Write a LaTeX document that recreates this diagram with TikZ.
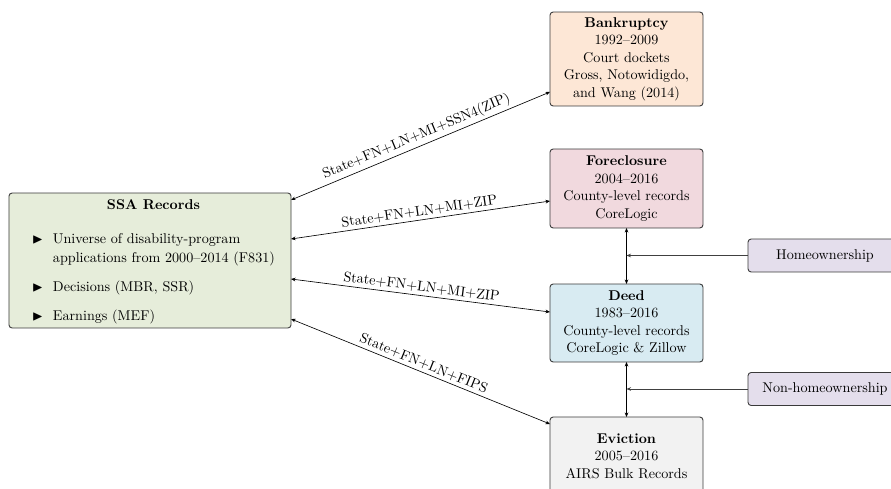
\documentclass[tikz,border=0pt]{standalone}
\usepackage{amssymb}
\usetikzlibrary{calc,arrows.meta}
\definecolor{ssafill}{HTML}{E6EDDA}
\definecolor{bankfill}{HTML}{FDE7D6}
\definecolor{forefill}{HTML}{F1D9DE}
\definecolor{deedfill}{HTML}{D8EBF2}
\definecolor{evicfill}{HTML}{F2F2F2}
\definecolor{homefill}{HTML}{E4DEEC}
\definecolor{bordercol}{HTML}{3A3A3A}
\tikzset{
  box/.style={draw=bordercol, line width=0.65pt, rounded corners=2.2pt, inner sep=0pt, outer sep=0pt,
    align=center, font=\fontsize{10pt}{12.4pt}\selectfont},
  srcbox/.style={box, minimum width=108.1pt},
  flagbox/.style={box, fill=homefill, minimum width=108.8pt, minimum height=23.3pt},
  link/.style={{Stealth[length=3.2pt,width=2.6pt]}-{Stealth[length=3.2pt,width=2.6pt]}, line width=0.45pt, black},
  vlink/.style={{Stealth[length=3.2pt,width=2.6pt]}-{Stealth[length=3.2pt,width=2.6pt]}, line width=0.6pt, black},
  feed/.style={-{Stealth[length=3.2pt,width=2.6pt]}, line width=0.6pt, black!75},
  lbl/.style={midway, sloped, above, font=\fontsize{10pt}{12pt}\selectfont, inner sep=2pt}
}
\begin{document}
\begin{tikzpicture}[x=0.7067pt, y=0.7067pt]
\clip (0,0) rectangle (891,-489);
% SSA box
\node[box, fill=ssafill, minimum width=199.3pt, minimum height=95.4pt] (ssa) at (150,-260.5) {};
\node[inner sep=0pt, anchor=center] (ssatxt) at (153.5,-261.6) {%
  \begin{tabular}{@{}l@{\hspace{7pt}}l@{}}
  \multicolumn{2}{c}{\textbf{SSA Records}}\\[12pt]
  $\blacktriangleright$ & Universe of disability-program\\[2pt]
   & applications from 2000--2014 (F831)\\[8.5pt]
  $\blacktriangleright$ & Decisions (MBR, SSR)\\[8.5pt]
  $\blacktriangleright$ & Earnings (MEF)
  \end{tabular}};
% source boxes
\node[srcbox, fill=bankfill, minimum height=66.4pt] (bank) at (626.5,-59)
  {\textbf{Bankruptcy}\\1992--2009\\Court dockets\\Gross, Notowidigdo,\\and Wang (2014)};
\node[srcbox, fill=forefill, minimum height=55.8pt] (fore) at (626.5,-188.5)
  {\textbf{Foreclosure}\\2004--2016\\County-level records\\CoreLogic};
\node[srcbox, fill=deedfill, minimum height=55.1pt] (deed) at (626.5,-323)
  {\textbf{Deed}\\1983--2016\\County-level records\\CoreLogic \& Zillow};
\node[srcbox, fill=evicfill, minimum height=55.1pt] (evic) at (626.5,-456)
  {\textbf{Eviction}\\2005--2016\\AIRS Bulk Records};
% flag boxes
\node[flagbox] (home) at (825,-255.5) {Homeownership};
\node[flagbox] (nonhome) at (825,-389) {Non-homeownership};
% links
\draw[link] ($(ssa.north east)+(0,-7)$) -- ($(bank.south west)+(0,14)$)
  node[lbl] {State+FN+LN+MI+SSN4(ZIP)};
\draw[link] ($(ssa.north east)+(0,-46)$) -- ($(fore.north west)+(0,-52)$)
  node[lbl] {State+FN+LN+MI+ZIP};
\draw[link] ($(ssa.north east)+(0,-86)$) -- ($(deed.north west)+(0,-28)$)
  node[lbl] {State+FN+LN+MI+ZIP};
\draw[link] ($(ssa.north east)+(0,-126)$) -- ($(evic.north west)+(0,-7)$)
  node[lbl] {State+FN+LN+FIPS};
% vertical links
\draw[vlink] (fore.south) -- (deed.north);
\draw[vlink] (deed.south) -- (evic.north);
\draw[feed] (home.west) -- (home.west -| fore.south);
\draw[feed] (nonhome.west) -- (nonhome.west -| deed.south);
\end{tikzpicture}
\end{document}
